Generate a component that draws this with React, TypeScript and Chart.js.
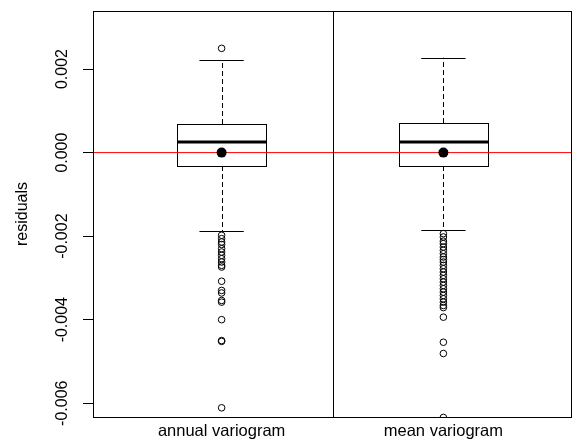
import { useEffect, useRef } from 'react';
import { Chart, registerables } from 'chart.js';

Chart.register(...registerables);

const FONT = '"Liberation Sans", Arial, Helvetica, sans-serif';

// Residual summaries for the two variogram fits
const categories = ['annual variogram', 'mean variogram'];
const whiskerHigh = [0.002216, 0.002271];
const q3 = [0.000684, 0.000708];
const medians = [0.000261, 0.000261];
const q1 = [-0.000321, -0.000321];
const whiskerLow = [-0.001876, -0.001852];
const means = [0, 0];
const referenceLevel = 0;

const annualOutliers = [
  0.002496,
  -0.00198, -0.00206, -0.00214, -0.0022, -0.0023, -0.00238, -0.00246, -0.00254,
  -0.00262, -0.0027, -0.00274, -0.00308, -0.0033, -0.00336, -0.00354, -0.00358,
  -0.004, -0.0045, -0.00452, -0.00611,
];
const meanOutliers = [
  -0.00194, -0.00202, -0.00212, -0.00218, -0.00226, -0.00234, -0.00242, -0.0025,
  -0.00256, -0.00262, -0.0027, -0.00278, -0.00286, -0.00294, -0.00302, -0.0031,
  -0.00318, -0.00326, -0.00334, -0.00342, -0.0035, -0.00358, -0.00366, -0.00371,
  -0.00394, -0.00454, -0.00481, -0.00634,
];

const yMin = -0.00633;
const yMax = 0.00339;
const yStep = 0.002;
const xMin = 0.42;
const xMax = 2.58;
const BOX_HALF = 0.2;
const CAP_HALF = 0.1;

const crisp = (v: number) => Math.round(v) + 0.5;

const boxPlugin = {
  id: 'residualBoxes',
  beforeDatasetsDraw(chart: any) {
    const { ctx, chartArea, scales } = chart;
    const x = scales.x;
    const y = scales.y;
    ctx.save();
    ctx.beginPath();
    ctx.rect(chartArea.left, chartArea.top, chartArea.right - chartArea.left, chartArea.bottom - chartArea.top);
    ctx.clip();
    ctx.strokeStyle = '#000';
    ctx.lineWidth = 1;
    categories.forEach((_, i) => {
      const cx = crisp(x.getPixelForValue(i + 1));
      const yHi = y.getPixelForValue(whiskerHigh[i]);
      const yQ3 = y.getPixelForValue(q3[i]);
      const yQ1 = y.getPixelForValue(q1[i]);
      const yLo = y.getPixelForValue(whiskerLow[i]);
      const yMed = y.getPixelForValue(medians[i]);
      // dashed whiskers
      ctx.setLineDash([5, 3]);
      ctx.beginPath();
      ctx.moveTo(cx, yQ3);
      ctx.lineTo(cx, yHi);
      ctx.moveTo(cx, yQ1);
      ctx.lineTo(cx, yLo);
      ctx.stroke();
      ctx.setLineDash([]);
      // caps
      const cl = x.getPixelForValue(i + 1 - CAP_HALF);
      const cr = x.getPixelForValue(i + 1 + CAP_HALF);
      ctx.beginPath();
      ctx.moveTo(cl, crisp(yHi));
      ctx.lineTo(cr, crisp(yHi));
      ctx.moveTo(cl, crisp(yLo));
      ctx.lineTo(cr, crisp(yLo));
      ctx.stroke();
      // box
      const bl = crisp(x.getPixelForValue(i + 1 - BOX_HALF));
      const br = crisp(x.getPixelForValue(i + 1 + BOX_HALF));
      const bt = crisp(yQ3);
      const bb = crisp(yQ1);
      ctx.fillStyle = '#fff';
      ctx.fillRect(bl, bt, br - bl, bb - bt);
      ctx.strokeRect(bl, bt, br - bl, bb - bt);
      // median
      ctx.lineWidth = 3;
      ctx.beginPath();
      ctx.moveTo(bl, Math.round(yMed));
      ctx.lineTo(br, Math.round(yMed));
      ctx.stroke();
      ctx.lineWidth = 1;
    });
    ctx.restore();
  },
  afterDraw(chart: any) {
    const { ctx, chartArea, scales } = chart;
    const x = scales.x;
    const y = scales.y;
    ctx.save();
    ctx.strokeStyle = '#000';
    ctx.lineWidth = 1;
    const l = crisp(chartArea.left);
    const r = Math.round(chartArea.right) - 0.5;
    const t = crisp(chartArea.top);
    const b = crisp(chartArea.bottom);
    ctx.strokeRect(l, t, r - l, b - t);
    const mid = crisp(x.getPixelForValue(1.5));
    ctx.beginPath();
    ctx.moveTo(mid, t);
    ctx.lineTo(mid, b);
    ctx.stroke();

    ctx.fillStyle = '#000';
    ctx.font = `16px ${FONT}`;
    // rotated tick labels
    y.ticks.forEach((tk: any) => {
      const v = tk.value;
      const label = Math.abs(v) < 1e-12 ? '0.000' : v.toFixed(3);
      ctx.save();
      ctx.translate(67, y.getPixelForValue(v));
      ctx.rotate(-Math.PI / 2);
      ctx.textAlign = 'center';
      ctx.textBaseline = 'alphabetic';
      ctx.fillText(label, 0, 0);
      ctx.restore();
    });
    // axis title
    ctx.save();
    ctx.translate(27, (chartArea.top + chartArea.bottom) / 2);
    ctx.rotate(-Math.PI / 2);
    ctx.textAlign = 'center';
    ctx.textBaseline = 'alphabetic';
    ctx.fillText('residuals', 0, 0);
    ctx.restore();
    // category labels
    ctx.font = `16.5px ${FONT}`;
    ctx.textAlign = 'center';
    ctx.textBaseline = 'alphabetic';
    categories.forEach((c, i) => {
      ctx.fillText(c, x.getPixelForValue(i + 1), 436);
    });
    ctx.restore();
  },
};

export default function App() {
  const canvasRef = useRef<HTMLCanvasElement | null>(null);

  useEffect(() => {
    const canvas = canvasRef.current;
    if (!canvas) return;
    const outlierStyle = {
      type: 'scatter',
      pointRadius: 3.3,
      pointBorderWidth: 1,
      pointBorderColor: '#000',
      pointBackgroundColor: 'rgba(0,0,0,0)',
      showLine: false,
      clip: 0,
      order: 1,
    };
    const chart = new Chart(canvas, {
      type: 'scatter',
      data: {
        datasets: [
          {
            // horizontal zero reference spanning the full x range
            type: 'line',
            label: 'zero',
            data: [
              { x: xMin, y: referenceLevel },
              { x: xMax, y: referenceLevel },
            ],
            borderColor: '#ff0000',
            backgroundColor: '#ff0000',
            borderWidth: 1,
            pointRadius: 0,
            fill: false,
            showLine: true,
            clip: 0,
            order: 3,
          },
          {
            label: 'annual outliers',
            data: annualOutliers.map((v) => ({ x: 1, y: v })),
            ...outlierStyle,
          },
          {
            label: 'mean outliers',
            data: meanOutliers.map((v) => ({ x: 2, y: v })),
            ...outlierStyle,
          },
          {
            type: 'scatter',
            label: 'means',
            data: means.map((v, i) => ({ x: i + 1, y: v })),
            pointRadius: 5,
            pointBorderWidth: 0,
            pointBackgroundColor: '#000',
            pointBorderColor: '#000',
            showLine: false,
            clip: 0,
            order: 0,
          },
        ],
      },
      options: {
        responsive: false,
        animation: false,
        devicePixelRatio: 1,
        layout: { autoPadding: false, padding: { top: 11, right: 0, bottom: 28, left: 0 } },
        plugins: { legend: { display: false }, tooltip: { enabled: false } },
        events: [],
        scales: {
          x: { type: 'linear', min: xMin, max: xMax, display: false },
          y: {
            type: 'linear',
            min: yMin,
            max: yMax,
            border: { display: false },
            grid: {
              drawOnChartArea: false,
              drawTicks: true,
              tickLength: 10,
              color: '#000',
              lineWidth: 1,
            },
            ticks: { display: false, stepSize: yStep, includeBounds: false },
            afterFit: (s: any) => {
              s.width = 93;
            },
          },
        },
      },
      plugins: [boxPlugin],
    } as any);
    return () => chart.destroy();
  }, []);

  return (
    <div style={{ position: 'absolute', left: 0, top: 0, width: 572, height: 445, background: '#fff' }}>
      <canvas ref={canvasRef} width={572} height={445} />
    </div>
  );
}
